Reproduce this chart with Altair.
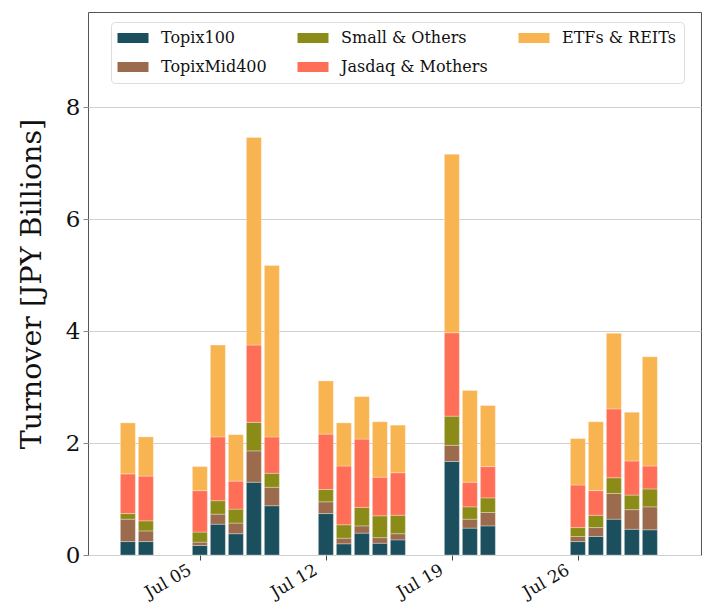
import altair as alt
import pandas as pd

dates = ["2021-07-01", "2021-07-02", "2021-07-05", "2021-07-06", "2021-07-07",
         "2021-07-08", "2021-07-09", "2021-07-12", "2021-07-13", "2021-07-14",
         "2021-07-15", "2021-07-16", "2021-07-19", "2021-07-20", "2021-07-21",
         "2021-07-26", "2021-07-27", "2021-07-28", "2021-07-29", "2021-07-30"]

topix100 = [0.24, 0.24, 0.17, 0.55, 0.38, 1.30, 0.88, 0.74, 0.20, 0.39,
            0.21, 0.27, 1.67, 0.48, 0.52, 0.24, 0.33, 0.64, 0.46, 0.45]
topixmid400 = [0.40, 0.19, 0.06, 0.18, 0.19, 0.56, 0.33, 0.21, 0.10, 0.13,
               0.10, 0.11, 0.29, 0.16, 0.24, 0.09, 0.16, 0.46, 0.35, 0.41]
small_others = [0.10, 0.18, 0.18, 0.24, 0.25, 0.51, 0.25, 0.22, 0.24, 0.33,
                0.39, 0.33, 0.52, 0.22, 0.26, 0.16, 0.22, 0.28, 0.26, 0.32]
jasdaq_mothers = [0.71, 0.80, 0.74, 1.14, 0.50, 1.38, 0.65, 0.99, 1.05, 1.22,
                  0.69, 0.76, 1.49, 0.44, 0.56, 0.76, 0.44, 1.23, 0.61, 0.41]
etfs_reits = [0.91, 0.70, 0.43, 1.64, 0.83, 3.71, 3.06, 0.95, 0.77, 0.76,
              0.99, 0.85, 3.19, 1.64, 1.09, 0.83, 1.23, 1.35, 0.87, 1.95]

series_names = ["Topix100", "TopixMid400", "Small & Others",
                "Jasdaq & Mothers", "ETFs & REITs"]
series_values = [topix100, topixmid400, small_others, jasdaq_mothers, etfs_reits]
series_colors = ["#1c4f5d", "#9c6b4d", "#8b8c17", "#ff6f58", "#f9b452"]

rows = []
for k, (name, vals) in enumerate(zip(series_names, series_values)):
    for d, v in zip(dates, vals):
        rows.append({"date": d, "series": name, "value": v, "ord": k})
df = pd.DataFrame(rows)

FONT = "DejaVu Serif"

x_ticks = [alt.DateTime(year=2021, month=7, date=d, utc=True) for d in (5, 12, 19, 26)]

chart = alt.Chart(df).mark_bar(width=15, stroke="white", strokeWidth=0.6,
                               strokeOpacity=0.5).encode(
    x=alt.X("date:T",
            scale=alt.Scale(type="utc", domain=[
                alt.DateTime(year=2021, month=6, date=29, hours=1, minutes=30, utc=True),
                alt.DateTime(year=2021, month=8, date=1, hours=13, minutes=30, utc=True)]),
            axis=alt.Axis(values=x_ticks, format="%b %d", title=None,
                          labelAngle=-30, labelAlign="center", labelBaseline="middle",
                          labelOffset=-32, labelPadding=21,
                          labelFontSize=17, labelFont=FONT, labelColor="#111",
                          tickSize=5, tickColor="#444",
                          grid=False, domain=False)),
    y=alt.Y("value:Q", stack="zero",
            scale=alt.Scale(domain=[0, 9.7], nice=False),
            axis=alt.Axis(values=[0, 2, 4, 6, 8], title="Turnover [JPY Billions]",
                          titleFont=FONT, titleFontSize=28.5, titleFontWeight="normal",
                          titleColor="#111", titlePadding=19,
                          labelFont=FONT, labelFontSize=23, labelColor="#111",
                          labelPadding=3, tickSize=5, tickColor="#888",
                          grid=True, gridColor="#d0d0d0", domain=False)),
    color=alt.Color("series:N",
                    scale=alt.Scale(domain=series_names, range=series_colors),
                    legend=alt.Legend(title=None, orient="none", legendX=23, legendY=10,
                                      columns=3, columnPadding=30, rowPadding=13,
                                      gridAlign="each",
                                      symbolType="M-1.9,-1L4.3,-1L4.3,1L-1.9,1Z",
                                      symbolSize=100, symbolStrokeWidth=0,
                                      symbolOpacity=1,
                                      labelFont=FONT, labelFontSize=16,
                                      labelColor="#111", labelOffset=26,
                                      padding=8, fillColor="white",
                                      strokeColor="#dddddd", cornerRadius=4)),
    order=alt.Order("ord:Q", sort="ascending"),
).properties(
    width=613, height=543,
    autosize=alt.AutoSizeParams(type="none"),
    padding={"left": 80, "top": 4, "right": 3, "bottom": 50},
).configure_view(stroke="#555", strokeWidth=1)

chart.save("out.html", embed_options={"renderer": "svg", "actions": False})
